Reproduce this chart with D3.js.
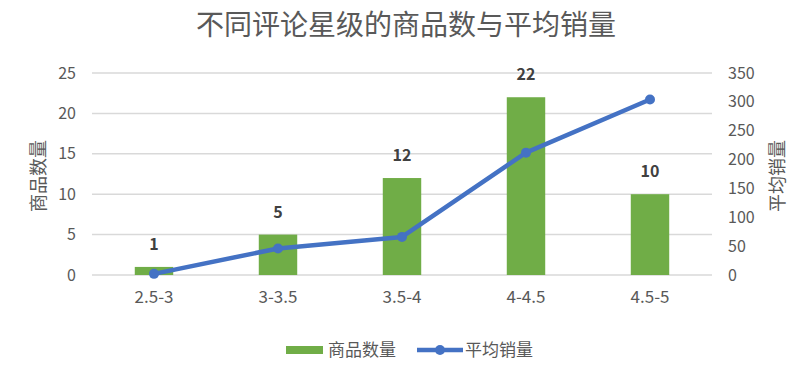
<!DOCTYPE html>
<html>
<head>
<meta charset="utf-8">
<script src="https://cdn.jsdelivr.net/npm/d3@7"></script>
<style>
  body { margin: 0; background: #fff; }
  text { font-family: "Noto Sans CJK SC", "Noto Sans", sans-serif; }
</style>
</head>
<body>
<div id="chart"></div>
<script>
// data
var categories = ["2.5-3", "3-3.5", "3.5-4", "4-4.5", "4.5-5"];
var counts = [1, 5, 12, 22, 10];          // 商品数量 (bars, left axis)
var avgSales = [2, 46, 66, 212, 304];     // 平均销量 (line, right axis)
var leftTicks = [0, 5, 10, 15, 20, 25];
var rightTicks = [0, 50, 100, 150, 200, 250, 300, 350];

var width = 806, height = 372;
var margin = {top: 73, right: 94, bottom: 97, left: 92};

var svg = d3.select("#chart").append("svg")
  .attr("width", width)
  .attr("height", height);

var x = d3.scaleBand()
  .domain(categories)
  .range([margin.left, width - margin.right]);

var yLeft = d3.scaleLinear()
  .domain([0, 25])
  .range([height - margin.bottom, margin.top]);

var yRight = d3.scaleLinear()
  .domain([0, 350])
  .range([height - margin.bottom, margin.top]);

// title
svg.append("text")
  .attr("x", 406)
  .attr("y", 35)
  .attr("text-anchor", "middle")
  .attr("font-size", 28)
  .attr("fill", "#595959")
  .text("不同评论星级的商品数与平均销量");

// gridlines
svg.append("g")
  .selectAll("line")
  .data(leftTicks)
  .enter().append("line")
  .attr("x1", margin.left)
  .attr("x2", width - margin.right)
  .attr("y1", d => yLeft(d))
  .attr("y2", d => yLeft(d))
  .attr("stroke", "#d9d9d9")
  .attr("stroke-width", 1.5);

// left axis
var leftAxis = svg.append("g")
  .attr("transform", "translate(" + (margin.left - 16) + ",0)")
  .call(d3.axisLeft(yLeft).tickValues(leftTicks).tickSize(0).tickPadding(0));
leftAxis.select(".domain").remove();
leftAxis.selectAll("text")
  .attr("font-size", 16)
  .attr("fill", "#595959");

// right axis
var rightAxis = svg.append("g")
  .attr("transform", "translate(" + (width - margin.right + 16) + ",0)")
  .call(d3.axisRight(yRight).tickValues(rightTicks).tickSize(0).tickPadding(0));
rightAxis.select(".domain").remove();
rightAxis.selectAll("text")
  .attr("font-size", 16)
  .attr("fill", "#595959");

// x axis labels
var xAxis = svg.append("g")
  .attr("transform", "translate(0," + (height - margin.bottom + 13) + ")")
  .call(d3.axisBottom(x).tickSize(0).tickPadding(0));
xAxis.select(".domain").remove();
xAxis.selectAll("text")
  .attr("font-size", 17)
  .attr("fill", "#595959")
  .attr("dy", "0.9em");

// axis titles
svg.append("text")
  .attr("transform", "translate(45,176) rotate(-90)")
  .attr("text-anchor", "middle")
  .attr("font-size", 18)
  .attr("fill", "#595959")
  .text("商品数量");

svg.append("text")
  .attr("transform", "translate(784,176) rotate(-90)")
  .attr("text-anchor", "middle")
  .attr("font-size", 18)
  .attr("fill", "#595959")
  .text("平均销量");

// bars
var barW = x.bandwidth() * 0.31;
svg.append("g")
  .selectAll("rect")
  .data(counts)
  .enter().append("rect")
  .attr("x", (d, i) => x(categories[i]) + x.bandwidth() / 2 - barW / 2)
  .attr("y", d => yLeft(d))
  .attr("width", barW)
  .attr("height", d => yLeft(0) - yLeft(d))
  .attr("fill", "#70ad47");

// bar labels
svg.append("g")
  .selectAll("text")
  .data(counts)
  .enter().append("text")
  .attr("x", (d, i) => x(categories[i]) + x.bandwidth() / 2)
  .attr("y", d => yLeft(d) - 17)
  .attr("text-anchor", "middle")
  .attr("font-size", 16)
  .attr("font-weight", 600)
  .attr("fill", "#404040")
  .text(d => d);

// line
var line = d3.line()
  .x((d, i) => x(categories[i]) + x.bandwidth() / 2)
  .y(d => yRight(d));

svg.append("path")
  .datum(avgSales)
  .attr("d", line)
  .attr("fill", "none")
  .attr("stroke", "#4472c4")
  .attr("stroke-width", 4.5)
  .attr("stroke-linejoin", "round")
  .attr("stroke-linecap", "round");

svg.append("g")
  .selectAll("circle")
  .data(avgSales)
  .enter().append("circle")
  .attr("cx", (d, i) => x(categories[i]) + x.bandwidth() / 2)
  .attr("cy", d => yRight(d))
  .attr("r", 5)
  .attr("fill", "#4472c4");

// legend
var legend = svg.append("g");
legend.append("rect")
  .attr("x", 286).attr("y", 346)
  .attr("width", 37).attr("height", 8)
  .attr("fill", "#70ad47");
legend.append("text")
  .attr("x", 328).attr("y", 356)
  .attr("font-size", 17)
  .attr("fill", "#595959")
  .text("商品数量");
legend.append("line")
  .attr("x1", 417).attr("x2", 463)
  .attr("y1", 350).attr("y2", 350)
  .attr("stroke", "#4472c4")
  .attr("stroke-width", 4.5);
legend.append("circle")
  .attr("cx", 440).attr("cy", 350)
  .attr("r", 5)
  .attr("fill", "#4472c4");
legend.append("text")
  .attr("x", 465).attr("y", 356)
  .attr("font-size", 17)
  .attr("fill", "#595959")
  .text("平均销量");
</script>
</body>
</html>
